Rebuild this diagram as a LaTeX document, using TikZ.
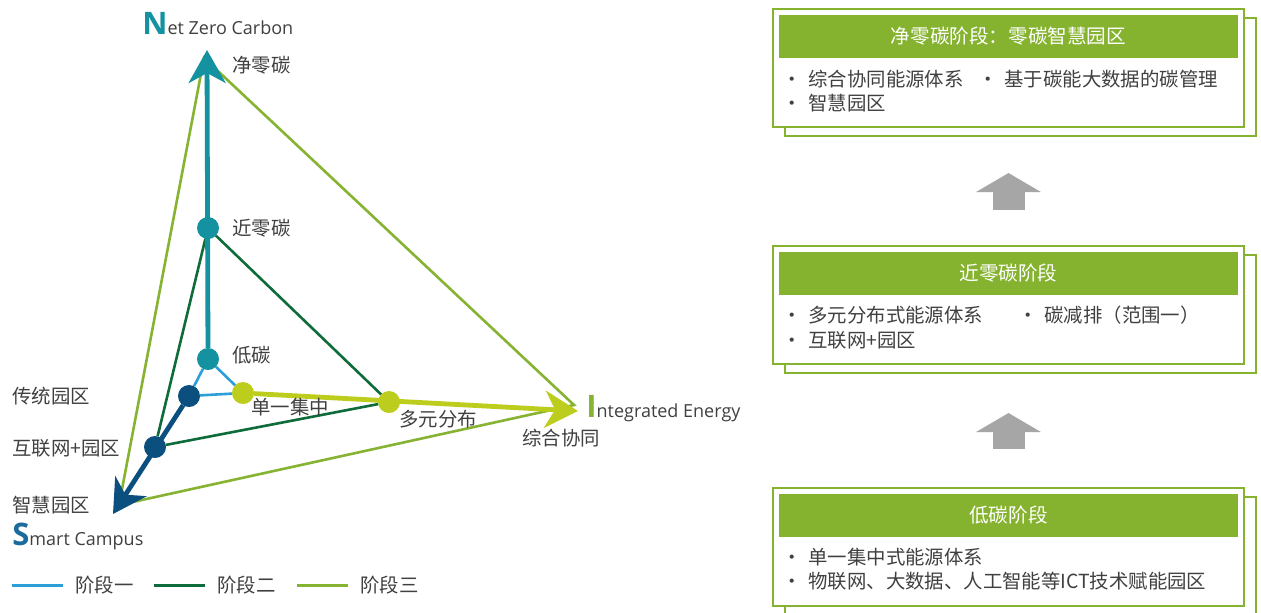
\documentclass[tikz,border=0pt]{standalone}
\usepackage{fontspec}
\setmainfont{Open Sans}
\newfontfamily\cjk{Noto Sans CJK SC}
\usetikzlibrary{arrows.meta}
\definecolor{teal1}{HTML}{1592A0}
\definecolor{blue1}{HTML}{2A9FD8}
\definecolor{blue2}{HTML}{0B4F7F}
\definecolor{blueS}{HTML}{1C6B9C}
\definecolor{green2}{HTML}{0E6B3A}
\definecolor{green3}{HTML}{86B332}
\definecolor{ygreen}{HTML}{BCCD1E}
\definecolor{txtgray}{HTML}{404040}
\definecolor{boxgreen}{HTML}{85B32F}
\definecolor{arrowgray}{HTML}{A6A6A6}

\begin{document}
\begin{tikzpicture}[x=0.5pt,y=-0.5pt,
dot/.style = {circle, fill=#1, minimum size=11pt,
            inner sep=0pt, outer sep=0pt},
dot/.default = teal1,
lbl/.style = {anchor=west, inner sep=0pt, text=txtgray,
            font=\cjk\fontsize{9.7pt}{11pt}\selectfont},
title/.style = {anchor=base west, inner sep=0pt, text=txtgray,
            font=\fontsize{9pt}{12pt}\selectfont},
stage/.style = {line width=1.3pt},
axis/.style = {line width=2.4pt, -{Stealth[length=16.5pt,width=18.5pt,inset=5pt]}},
frontbox/.style = {draw=boxgreen, line width=1pt, fill=white, outer sep=0pt,
            minimum width=235.5pt, minimum height=59pt, inner sep=0pt},
backbox/.style = {frontbox},
headbar/.style = {fill=boxgreen, text=white, minimum width=229.5pt,
            minimum height=21.5pt, inner sep=0pt,
            font=\cjk\fontsize{9.8pt}{11pt}\selectfont},
uparrow/.style = {arrowgray, line width=16pt,
            -{Triangle[width=32pt,length=9.5pt]}}
                ]
    \fill[white] (0,0) rectangle (1261,612);
    \useasboundingbox (0,0) rectangle (1261,612);

    % points of the triangle
    \foreach \x/\y/\c/\n in {208/228/teal1/nzc, 208/359/teal1/ldt,
                             189/396/blue2/ctq, 155/447/blue2/hlw,
                             243/393/ygreen/dyj, 389/402/ygreen/ddy}
        \node[dot=\c] at (\x,\y) (\n) {};
    \coordinate (nzTip) at (207,50);
    \coordinate (scTip) at (113,514);
    \coordinate (ieTip) at (578,411);
    \coordinate (s3a) at (204,58);
    \coordinate (s3b) at (119,505);
    \coordinate (s3c) at (574,405);

    % stages
    \draw[stage, green3] (s3a) -- (s3b) -- (s3c) -- cycle;
    \draw[stage, green2] (nzc) -- (hlw);
    \draw[stage, green2] (hlw) -- (ddy);
    \draw[stage, green2] (ddy) -- (nzc);
    \draw[stage, blue1] (ldt) -- (ctq);
    \draw[stage, blue1] (ctq) -- (dyj);
    \draw[stage, blue1] (dyj) -- (ldt);

    % axes
    \draw[axis, teal1] (ldt) -- (nzTip);
    \draw[axis, blue2] (ctq) -- (scTip);
    \draw[axis, ygreen] (dyj) -- (ieTip);

    \node[title] (tnz) at (142,34) {{\fontsize{15.5pt}{16pt}\selectfont\bfseries\color{teal1}N}et Zero Carbon};
    \node[title] (tsc) at (12,545) {{\fontsize{15.5pt}{16pt}\selectfont\bfseries\color{blueS}S}mart Campus};
    \node[title] (tie) at (586,417) {{\fontsize{15.5pt}{16pt}\selectfont\bfseries\color{green3}I}ntegrated Energy};

    \foreach \x/\y/\t [count=\i] in {232/65/净零碳, 232/228/近零碳, 232/355/低碳,
                                     12/396/传统园区, 12/448/互联网+园区, 12/505/智慧园区,
                                     251/407/单一集中, 399/419/多元分布, 522/438/综合协同}
        \node[lbl] at (\x,\y) (lab\i) {\t};

    % legend
    \foreach \x/\c/\t [count=\i] in {12/blue1/阶段一, 154/green2/阶段二, 297/green3/阶段三}{
        \coordinate (leg\i) at (\x,585);
        \coordinate (leg\i e) at (\x+51,585);
        \draw[\c, line width=1.5pt] (leg\i) -- (leg\i e);
        \node[lbl] at (\x+63,585) (legt\i) {\t};
    }

    % stage boxes
    \foreach \n/\t/\ttl in {3/9/净零碳阶段：零碳智慧园区, 2/246/近零碳阶段, 1/488/低碳阶段}{
        \node[backbox] at (1020.5,\t+68) (back\n) {};
        \node[frontbox] at (1008.5,\t+59) (box\n) {};
        \node[headbar] at (1008.5,\t+27.5) (head\n) {\ttl};
    }
    \foreach \x/\y/\t [count=\i] in {782/79/综合协同能源体系, 978/79/基于碳能大数据的碳管理,
                                     782/103/智慧园区,
                                     782/315/多元分布式能源体系, 1018/315/碳减排（范围一）,
                                     782/340/互联网+园区,
                                     782/557/单一集中式能源体系,
                                     782/581/物联网、大数据、人工智能等ICT技术赋能园区}
        \node[lbl] at (\x,\y) (item\i) {\makebox[13pt][l]{·}\t};

    \draw[uparrow, shorten <=18pt, shorten >=18.5pt] (box2.north) -- (box2.north |- back3.south);
    \draw[uparrow, shorten <=19.5pt, shorten >=20pt] (box1.north) -- (box1.north |- back2.south);
\end{tikzpicture}
\end{document}
